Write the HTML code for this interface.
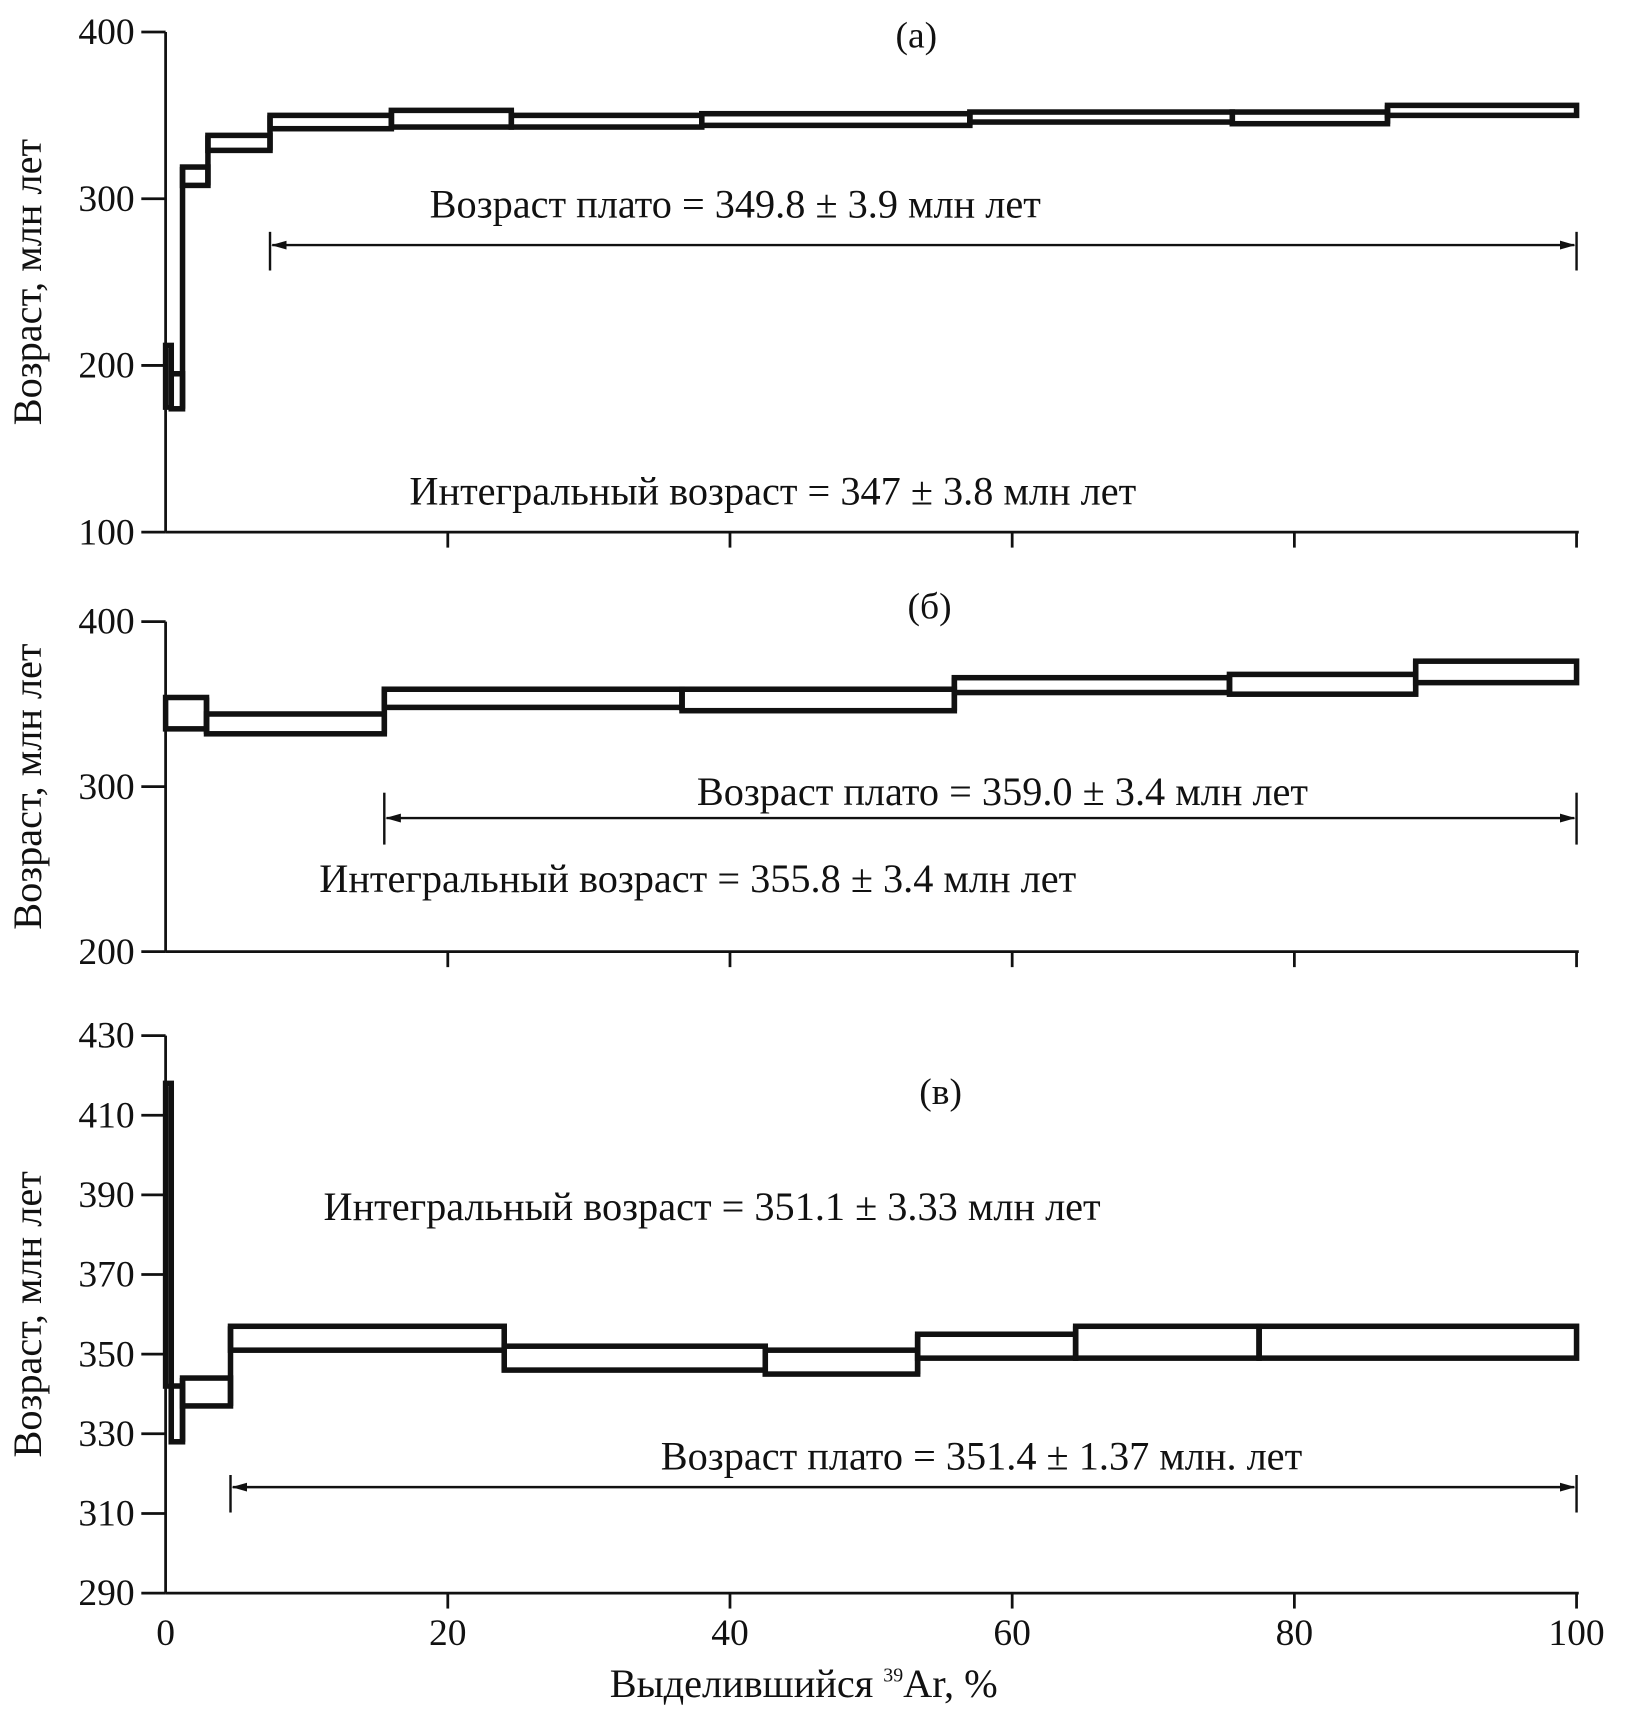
<!DOCTYPE html>
<html><head><meta charset="utf-8">
<style>
html,body{margin:0;padding:0;background:#fff;}
svg{display:block;}
text{font-family:"Liberation Serif","DejaVu Serif",serif;fill:#111;}
</style></head>
<body>
<svg id="chart" width="1629" height="1733" viewBox="0 0 1475.5 1569.7" preserveAspectRatio="none" xmlns="http://www.w3.org/2000/svg"></svg>
<script>
// Panel (a)
const aStart = [0, 0.4, 1.2, 3.0, 7.4, 16, 24.5, 38, 57, 75.6, 86.6];
const aEnd   = [0.4, 1.2, 3.0, 7.4, 16, 24.5, 38, 57, 75.6, 86.6, 100];
const aHigh  = [212, 195, 319, 338, 350, 353, 350, 351, 352, 352, 356];
const aLow   = [175, 174, 308, 329, 342, 343, 343, 344, 346, 345, 350];
const aTicks = [100, 200, 300, 400];
// Panel (b)
const bStart = [0, 2.9, 15.5, 36.6, 55.9, 75.4, 88.6];
const bEnd   = [2.9, 15.5, 36.6, 55.9, 75.4, 88.6, 100];
const bHigh  = [354, 344, 359, 359, 366, 368, 376];
const bLow   = [335, 332, 348, 346, 357, 356, 363];
const bTicks = [200, 300, 400];
// Panel (c)
const cStart = [0, 0.4, 1.2, 4.6, 24, 42.5, 53.3, 64.5, 77.5];
const cEnd   = [0.4, 1.2, 4.6, 24, 42.5, 53.3, 64.5, 77.5, 100];
const cHigh  = [418, 342, 344, 357, 352, 351, 355, 357, 357];
const cLow   = [342, 328, 337, 351, 346, 345, 349, 349, 349];
const cTicks = [290, 310, 330, 350, 370, 390, 410, 430];
const xTicks = [0, 20, 40, 60, 80, 100];

const NS = "http://www.w3.org/2000/svg";
const svg = document.getElementById('chart');
function mk(tag, attrs, parent){
  const e = document.createElementNS(NS, tag);
  for (const k in attrs) e.setAttribute(k, attrs[k]);
  (parent||svg).appendChild(e);
  return e;
}
function xs(p){ return 150 + p * 12.78; }

const panels = [
  {key:'a', start:aStart, end:aEnd, hi:aHigh, lo:aLow, ticks:aTicks, top:400, bot:100, y0:29, k:1.51,
   label:'(а)', lx:830, ly:43, plateau:'Возраст плато = 349.8 ± 3.9 млн лет', px:666, py:197, pa:7.4, ay:222, ay1:210, ay2:245,
   integ:'Интегральный возраст = 347 ± 3.8 млн лет', ix:700, iy:457},
  {key:'b', start:bStart, end:bEnd, hi:bHigh, lo:bLow, ticks:bTicks, top:400, bot:200, y0:563, k:1.495,
   label:'(б)', lx:842, ly:560, plateau:'Возраст плато = 359.0 ± 3.4 млн лет', px:908, py:729, pa:15.5, ay:741, ay1:718, ay2:765,
   integ:'Интегральный возраст = 355.8 ± 3.4 млн лет', ix:632, iy:808},
  {key:'c', start:cStart, end:cEnd, hi:cHigh, lo:cLow, ticks:cTicks, top:430, bot:290, y0:938, k:3.607,
   label:'(в)', lx:852, ly:1000, plateau:'Возраст плато = 351.4 ± 1.37 млн. лет', px:889, py:1331, pa:4.6, ay:1347, ay1:1336, ay2:1370,
   integ:'Интегральный возраст = 351.1 ± 3.33 млн лет', ix:645, iy:1105}
];

const defs = mk('defs', {});
const m = mk('marker', {id:'arr', markerWidth:'14', markerHeight:'8', refX:'13', refY:'4', orient:'auto-start-reverse', markerUnits:'userSpaceOnUse'}, defs);
mk('path', {d:'M0,0 L14,4 L0,8 Z', fill:'#111'}, m);

const FS = 36.5;
panels.forEach(P => {
  const ys = v => P.y0 + (P.top - v) * P.k;
  const g = mk('g', {});
  
  
  const yb = ys(P.bot);
  const yax = mk('line', {x1:150, y1:ys(P.top), x2:150, y2:yb, stroke:'#111', 'stroke-width':2.5}, g);
  
  
  const xax = mk('line', {x1:150, y1:yb, x2:1430, y2:yb, stroke:'#111', 'stroke-width':2.5}, g);
  
  
  P.ticks.forEach(t => {
    const tl = mk('line', {x1:128, y1:ys(t), x2:150, y2:ys(t), stroke:'#111', 'stroke-width':2.5}, g);
    
    
    const tx = mk('text', {x:122, y:ys(t)+11, 'text-anchor':'end', 'font-size':34}, g);
    tx.textContent = t;
    
    
  });
  xTicks.forEach(t => {
    if (t === 0) return;
    const tl = mk('line', {x1:xs(t), y1:yb, x2:xs(t), y2:yb+14, stroke:'#111', 'stroke-width':2.5}, g);
    
    
  });
  P.start.forEach((s, i) => {
    const r = mk('rect', {x:xs(s), y:ys(P.hi[i]), width:xs(P.end[i])-xs(s), height:Math.max(ys(P.lo[i])-ys(P.hi[i]),1), fill:'none', stroke:'#111', 'stroke-width':5}, g);
    
    
    if (i < P.start.length - 1) {
      const top = Math.max(P.hi[i], P.hi[i+1]);
      const bot = Math.min(P.lo[i], P.lo[i+1]);
      const c = mk('line', {x1:xs(P.end[i]), y1:ys(top), x2:xs(P.end[i]), y2:ys(bot), stroke:'#111', 'stroke-width':5}, g);
      
      
    }
  });
  const ytitle = mk('text', {x:0, y:0, transform:'translate(37,' + ((ys(P.top)+yb)/2) + ') rotate(-90)', 'text-anchor':'middle', 'font-size':FS}, g);
  ytitle.textContent = 'Возраст, млн лет';
  
  
  const lb = mk('text', {x:P.lx, y:P.ly, 'text-anchor':'middle', 'font-size':34}, g);
  lb.textContent = P.label;
  
  
  const pt = mk('text', {x:P.px, y:P.py, 'text-anchor':'middle', 'font-size':FS}, g);
  pt.textContent = P.plateau;
  
  
  const it = mk('text', {x:P.ix, y:P.iy, 'text-anchor':'middle', 'font-size':FS}, g);
  it.textContent = P.integ;
  
  
  const ar = mk('line', {x1:xs(P.pa)+2, y1:P.ay, x2:xs(100)-2, y2:P.ay, stroke:'#111', 'stroke-width':2.2, 'marker-start':'url(#arr)', 'marker-end':'url(#arr)'}, g);
  
  
  [P.pa, 100].forEach(p => {
    const vl = mk('line', {x1:xs(p), y1:P.ay1, x2:xs(p), y2:P.ay2, stroke:'#111', 'stroke-width':2.2}, g);
    
    
  });
});

xTicks.forEach(t => {
  const tx = mk('text', {x:xs(t), y:1490, 'text-anchor':'middle', 'font-size':34});
  tx.textContent = t;
  
  
});
const xt = mk('text', {x:728, y:1537, 'text-anchor':'middle', 'font-size':FS});


xt.appendChild(document.createTextNode('Выделившийся '));
const sup = mk('tspan', {'font-size':18, dy:-14}, xt);
sup.textContent = '39';
const rest = mk('tspan', {dy:14}, xt);
rest.textContent = 'Ar, %';
</script>
</body></html>
